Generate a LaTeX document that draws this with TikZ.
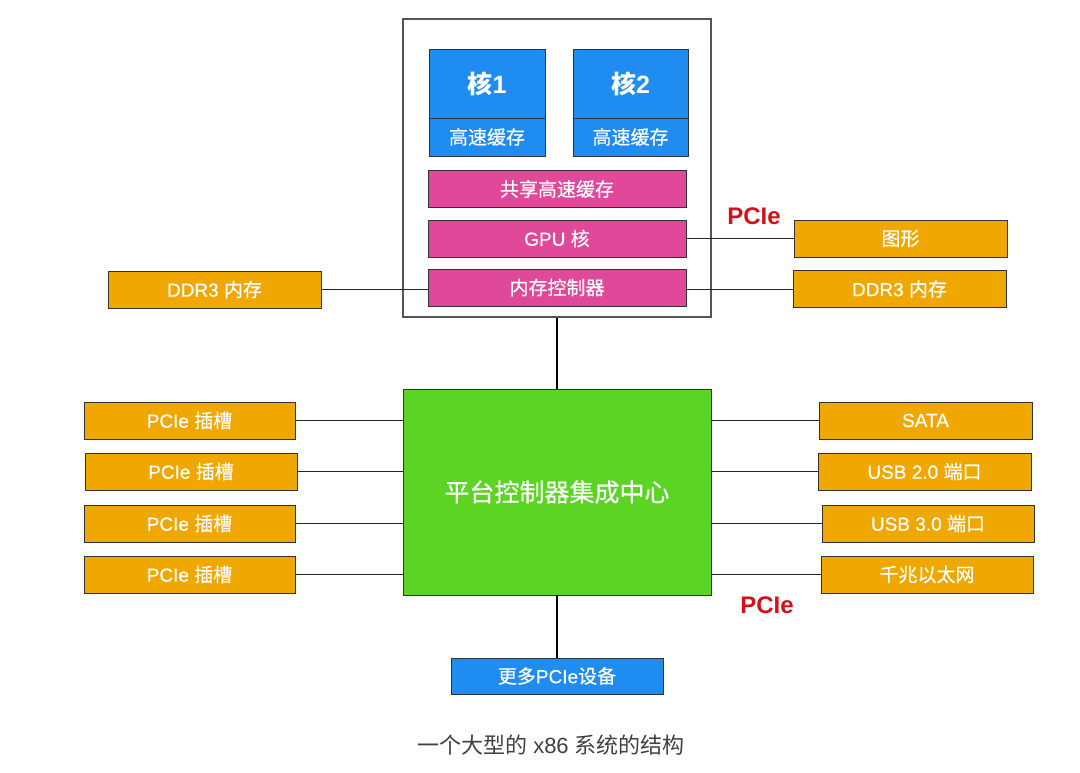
\documentclass[tikz,border=0pt]{standalone}
\usepackage{fontspec}
\setmainfont{Noto Sans CJK SC}
\newfontfamily\lat{Liberation Sans}
\newfontfamily\bx{Noto Sans CJK SC}[FakeBold=0.4]
\newfontfamily\bxl{Liberation Sans}[FakeBold=0.4]
\definecolor{cblue}{HTML}{1E8CF0}
\definecolor{cpink}{HTML}{E0489A}
\definecolor{corange}{HTML}{F0A800}
\definecolor{cgreen}{HTML}{5CD424}
\definecolor{cred}{HTML}{D4101A}
\definecolor{cgray}{HTML}{555555}
\begin{document}
\begin{tikzpicture}[x=1pt,y=-1pt,
  box/.style={draw=black!80,line width=0.8pt,inner sep=0pt,text=white,font=\bx\fontsize{19}{21}\selectfont},
  obox/.style={box,fill=corange,minimum width=212pt,minimum height=37pt},
  pbox/.style={box,fill=cpink,minimum width=258pt,minimum height=37pt},
  bbox/.style={box,fill=cblue},
  corefont/.style={font=\fontsize{25}{27}\selectfont\bfseries},
  wire/.style={draw=black!85,line width=0.8pt},
  lbl/.style={text=cred,font=\fontsize{24}{26}\selectfont\lat\bfseries}
]
\useasboundingbox (0,0) rectangle (1080,772);
% CPU package
\node[draw=cgray,line width=1.2pt,minimum width=308pt,minimum height=298pt,inner sep=0pt] (cpu) at (557,168) {};
\node[bbox,corefont,minimum width=116pt,minimum height=69pt] (core1) at (487,84) {核{\lat\bfseries 1}};
\node[bbox,minimum width=116pt,minimum height=38pt] (cache1) at (487,137) {高速缓存};
\node[bbox,corefont,minimum width=115pt,minimum height=69pt] (core2) at (630.5,84) {核{\lat\bfseries 2}};
\node[bbox,minimum width=115pt,minimum height=38pt] (cache2) at (630.5,137) {高速缓存};
\node[pbox] (shared) at (557,189) {共享高速缓存};
\node[pbox] (gpu) at (557,238.5) {{\bxl GPU }核};
\node[pbox] (memc) at (557,287.5) {内存控制器};
% memory and graphics
\node[obox,minimum width=213pt] (ddrL) at (214.5,289.5) {{\bxl DDR3 }内存};
\node[obox,minimum width=213pt] (gfx) at (900.5,238.5) {图形};
\node[obox,minimum width=213pt] (ddrR) at (899.5,289) {{\bxl DDR3 }内存};
\draw[wire] (ddrL.east) -- (ddrL.east -| memc.west);
\draw[wire] (gpu.east) -- (gfx.west);
\draw[wire] (ddrR.west -| memc.east) -- (ddrR.west);
\node[lbl] (pcieTop) at (754,216) {PCIe};
% PCH
\node[draw=black!80,line width=0.8pt,fill=cgreen,minimum width=308pt,minimum height=206pt,inner sep=0pt,text=white,font=\bx\fontsize{25}{27}\selectfont] (pch) at (557,492) {平台控制器集成中心};
\draw[line width=1.6pt] (cpu.south) -- (pch.north);
% left slots
\node[obox,minimum width=211pt] (s1) at (189.5,420.5) {{\bxl PCIe }插槽};
\node[obox,minimum width=212pt] (s2) at (191,471.5) {{\bxl PCIe }插槽};
\node[obox,minimum width=211pt] (s3) at (189.5,523.5) {{\bxl PCIe }插槽};
\node[obox,minimum width=211pt] (s4) at (189.5,574.5) {{\bxl PCIe }插槽};
\foreach \n in {s1,s2,s3,s4} \draw[wire] (\n.east) -- (\n.east -| pch.west);
% right devices
\node[obox,minimum width=213pt,font=\fontsize{19}{21}\selectfont\bxl] (sata) at (925.5,420.5) {SATA};
\node[obox,minimum width=213pt] (usb2) at (924.5,471.5) {{\bxl USB 2.0 }端口};
\node[obox,minimum width=212pt] (usb3) at (928,523.5) {{\bxl USB 3.0 }端口};
\node[obox,minimum width=212pt] (eth) at (927,574.5) {千兆以太网};
\foreach \n in {sata,usb2,usb3,eth} \draw[wire] (\n.west) -- (\n.west -| pch.east);
\node[lbl] (pcieBot) at (767,605) {PCIe};
% more devices
\node[bbox,minimum width=212pt,minimum height=36pt] (more) at (557,676) {更多{\bxl PCIe}设备};
\draw[line width=1.6pt] (pch.south) -- (more.north);
% caption
\node[text=black!75,font=\fontsize{22}{24}\selectfont] (cap) at (551,745) {一个大型的{\lat\ x86 }系统的结构};
\end{tikzpicture}
\end{document}
